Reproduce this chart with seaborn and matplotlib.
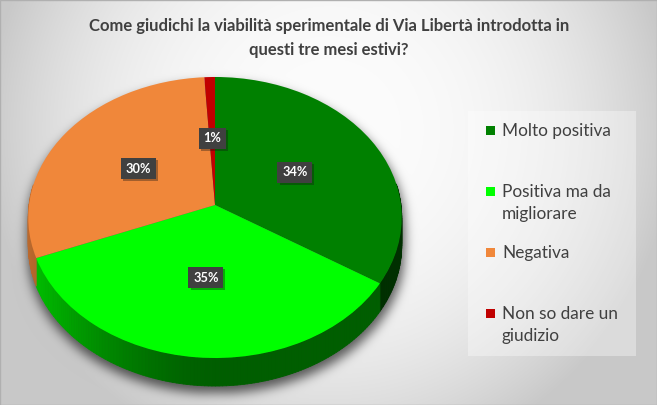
import numpy as np
import matplotlib
matplotlib.use("Agg")
import matplotlib.pyplot as plt
import seaborn as sns
from matplotlib.transforms import Transform
from matplotlib.collections import PolyCollection
from matplotlib.patches import Rectangle
from matplotlib import patheffects as pe
from matplotlib.colors import to_rgb

# ---- data -------------------------------------------------------------
categories = ["Molto positiva", "Positiva ma da\nmigliorare", "Negativa",
              "Non so dare un\ngiudizio"]
shares = [34, 35, 30, 1]
colors = ["#008000", "#00FF00", "#F0873A", "#C00000"]
title = ("Come giudichi la viabilità sperimentale di Via Libertà introdotta in\n"
         "questi tre mesi estivi?")

# ---- style ------------------------------------------------------------
sns.set_theme(style="white")
plt.rcParams["font.family"] = ["Lato", "DejaVu Sans"]
TEXT = "#404040"

W, H = 657, 405
fig = plt.figure(figsize=(W / 100, H / 100), dpi=100)

# pie geometry in pixels (y measured from the top)
CX, CY = 215, 205
RX, RY = 186.0, 139.4
TILT = 0.089
DEPTH = 28


class Tilt(Transform):
    """Simple perspective: the far half of the disc shrinks, the near half grows."""
    input_dims = output_dims = 2
    is_separable = False
    has_inverse = False

    def __init__(self, p):
        super().__init__()
        self.p = p

    def transform_non_affine(self, values):
        v = np.asarray(values, dtype=float).reshape(-1, 2)
        w = 1.0 + self.p * v[:, 1]
        return np.column_stack([v[:, 0] / w, v[:, 1] / w])


# ---- background: radial grey gradient plus soft pie shadow -------------
yy, xx = np.mgrid[0:H, 0:W] + 0.5
r = np.hypot(xx - 330, yy - 130)
gray = 252 - 52 * np.clip(r / 345, 0, 1) ** 2.5

ex, ey = 188.5, 141.0
cy0 = 217.5 + 7
inside = (((xx - CX - 1) / ex) ** 2 + ((yy - cy0) / ey) ** 2 <= 1) | \
         (((xx - CX - 1) / ex) ** 2 + ((yy - cy0 - DEPTH) / ey) ** 2 <= 1) | \
         ((np.abs(xx - CX - 1) <= ex) & (yy >= cy0) & (yy <= cy0 + DEPTH))


def blur(a, sigma):
    rad = int(3 * sigma)
    k = np.exp(-np.arange(-rad, rad + 1) ** 2 / (2 * sigma ** 2))
    k /= k.sum()
    a = np.apply_along_axis(lambda m: np.convolve(m, k, mode="same"), 0, a)
    return np.apply_along_axis(lambda m: np.convolve(m, k, mode="same"), 1, a)


shadow = 0.62 * blur(inside.astype(float), 5.5)
bg = gray * (1 - shadow)
rgb = np.repeat(np.clip(bg, 0, 255)[..., None], 3, axis=2).astype(np.uint8)
fig.figimage(rgb, xo=0, yo=0, origin="upper", zorder=-1)

# ---- pie ----------------------------------------------------------------
ax = fig.add_axes([0, 0, 1, 1])
wedges, _, autotexts = ax.pie(
    shares, colors=colors, startangle=90, counterclock=False,
    autopct=lambda p: f"{p:.0f}%", pctdistance=0.5,
    wedgeprops=dict(linewidth=0),
    textprops=dict(color="white", fontsize=9.2, fontweight="bold"))
ax.set_aspect("auto")
ax.set_xlim(-CX / RX, (W - CX) / RX)
ax.set_ylim((CY - H) / RY, CY / RY)
ax.axis("off")

tilt = Tilt(TILT)
for w in wedges:
    w.set_transform(tilt + ax.transData)
for t in autotexts:
    t.set_transform(tilt + ax.transData)
    t.set_bbox(dict(boxstyle="square,pad=0.36", facecolor="#404040",
                    edgecolor="none"))
    t.get_bbox_patch().set_path_effects(
        [pe.SimplePatchShadow(offset=(1.5, -1.5), alpha=0.35), pe.Normal()])

# side wall of the disc, shaded strip by strip
fr = np.asarray(shares, float) / sum(shares)
edges = 90 - 360 * np.concatenate([[0], np.cumsum(fr)])
drop = DEPTH / RY
polys, cols = [], []
for i, col in enumerate(colors):
    a_lo, a_hi = edges[i + 1], edges[i]
    n = max(2, int((a_hi - a_lo) / 1.0) + 1)
    ts = np.radians(np.linspace(a_lo, a_hi, n))
    base = np.array(to_rgb(col))
    for t0, t1 in zip(ts[:-1], ts[1:]):
        tm = 0.5 * (t0 + t1)
        if np.sin(tm) > 0.15:
            continue
        rim = tilt.transform(np.array([[np.cos(t0), np.sin(t0)],
                                       [np.cos(t1), np.sin(t1)]]))
        low = rim - [0, drop]
        polys.append(np.vstack([rim, low[::-1]]))
        f = 0.37 + 0.42 * max(0.0, -np.cos(tm)) ** 1.5
        cols.append(tuple(base * f))
ax.add_collection(PolyCollection(polys, facecolors=cols, edgecolors=cols,
                                 linewidths=0.6, zorder=0.5))

# ---- title -------------------------------------------------------------
fig.text(329 / W, 1 - 38 / H, title, ha="center", va="center",
         multialignment="center", fontsize=12, fontweight="bold",
         color=TEXT, linespacing=1.65)

# ---- legend --------------------------------------------------------------
fig.add_artist(Rectangle((468 / W, 1 - 356 / H), 168 / W, 245 / H,
                         transform=fig.transFigure, facecolor="white",
                         alpha=0.35, edgecolor="none"))
for i, (lab, col) in enumerate(zip(categories, colors)):
    y = 130.7 + 61 * i
    fig.add_artist(Rectangle((486 / W, 1 - (y + 4.5) / H), 9 / W, 9 / H,
                             transform=fig.transFigure, facecolor=col,
                             edgecolor="none"))
    for j, line in enumerate(lab.split("\n")):
        fig.text(502 / W, 1 - (y + 22.7 * j) / H, line, ha="left",
                 va="center", fontsize=12.4, color=TEXT)

# thin frame around the chart area
fig.add_artist(Rectangle((0, 0), 1, 1, transform=fig.transFigure,
                         facecolor="none", edgecolor="#B0B0B0", linewidth=1))

fig.savefig("out.png", dpi=100)
